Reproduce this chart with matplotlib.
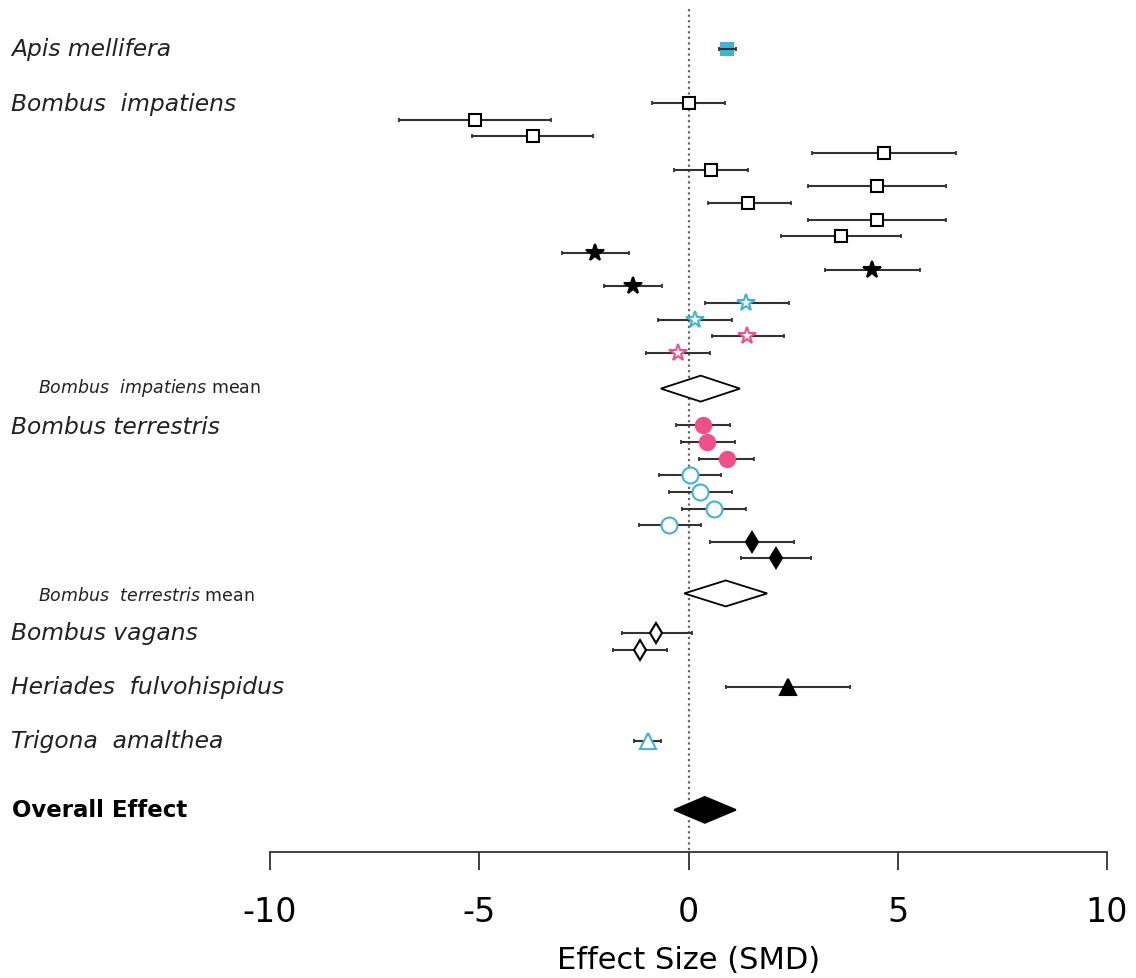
import matplotlib.pyplot as plt
from matplotlib.patches import Polygon
from matplotlib.transforms import blended_transform_factory

plt.rcParams["font.family"] = "DejaVu Sans"
plt.rcParams["mathtext.fontset"] = "dejavusans"

CYAN = "#40B4D4"
PINK = "#F04F8B"

# study-level effect sizes (SMD) with 95% CI, top to bottom per species
api_est, api_lo, api_hi = [0.92], [0.72], [1.14]

imp_est = [0.0, -5.10, -3.72, 4.67, 0.54, 4.50, 1.43, 4.50, 3.64,
           -2.23, 4.38, -1.33, 1.37, 0.16, 1.40, -0.26]
imp_lo = [-0.87, -6.92, -5.17, 2.95, -0.35, 2.86, 0.46, 2.86, 2.21,
          -3.02, 3.27, -2.02, 0.40, -0.73, 0.55, -1.02]
imp_hi = [0.87, -3.29, -2.28, 6.39, 1.42, 6.16, 2.44, 6.16, 5.07,
          -1.43, 5.54, -0.63, 2.39, 1.04, 2.28, 0.52]

ter_est = [0.34, 0.44, 0.91, 0.04, 0.28, 0.62, -0.46, 1.52, 2.09]
ter_lo = [-0.30, -0.19, 0.24, -0.70, -0.46, -0.15, -1.19, 0.51, 1.25]
ter_hi = [0.98, 1.10, 1.56, 0.78, 1.03, 1.37, 0.30, 2.53, 2.93]

vag_est, vag_lo, vag_hi = [-0.77, -1.15], [-1.60, -1.80], [0.08, -0.51]
her_est, her_lo, her_hi = [2.38], [0.90], [3.87]
tri_est, tri_lo, tri_hi = [-0.97], [-1.30], [-0.66]

# pooled estimates: lower, mean, upper
imp_mean = [-0.66, 0.29, 1.23]
ter_mean = [-0.10, 0.89, 1.88]
overall = [-0.34, 0.39, 1.13]

labels = ["Apis mellifera", "Bombus  impatiens", "Bombus terrestris",
          "Bombus vagans", "Heriades  fulvohispidus", "Trigona  amalthea"]
xticks = [-10, -5, 0, 5, 10]

# row positions (rows counted from the top)
api_y = [0]
imp_y = [3.25 + i for i in range(len(imp_est))]
imp_mean_y = 20.4
ter_y = [22.6 + i for i in range(len(ter_est))]
ter_mean_y = 32.7
vag_y = [35.1, 36.1]
her_y = [38.3]
tri_y = [41.55]
overall_y = 45.7
label_y = [0, 3.25, 22.7, 35.05, 38.3, 41.55]

# marker styles per row: (marker, face, edge, size)
imp_style = ([("s", "white", "black", 8.5)] * 9 +
             [("*", "black", "black", 13)] * 3 +
             [("*", "white", CYAN, 13)] * 2 +
             [("*", "white", PINK, 13)] * 2)
ter_style = ([("o", PINK, PINK, 11)] * 3 +
             [("o", "white", CYAN, 11.5)] * 4 +
             [("d", "black", "black", 10)] * 2)

fig = plt.figure(figsize=(11.36, 9.79), dpi=100)
ax = fig.add_axes([270 / 1136, 126 / 979, 837 / 1136, 843 / 979])
ax.set_xlim(-10, 10)
ax.set_ylim(48.23, -2.4)


def draw_rows(ys, e, l, h, styles, line_top=False):
    for y, ee, ll, hh, (m, fc, ec, ms) in zip(ys, e, l, h, styles):
        ax.errorbar([ee], [y], xerr=[[ee - ll], [hh - ee]], fmt="none",
                    ecolor="#333333", elinewidth=1.5, capsize=1.5, capthick=1.3,
                    zorder=4 if line_top else 2)
        ax.plot([ee], [y], marker=m, markersize=ms, markerfacecolor=fc,
                markeredgecolor=ec, markeredgewidth=1.5, linestyle="none",
                zorder=3)


draw_rows(api_y, api_est, api_lo, api_hi, [("s", CYAN, CYAN, 9)], line_top=True)
draw_rows(imp_y, imp_est, imp_lo, imp_hi, imp_style)
draw_rows(ter_y, ter_est, ter_lo, ter_hi, ter_style)
draw_rows(vag_y, vag_est, vag_lo, vag_hi, [("d", "white", "black", 10.5)] * 2)
draw_rows(her_y, her_est, her_lo, her_hi, [("^", "black", "black", 11)])
draw_rows(tri_y, tri_est, tri_lo, tri_hi, [("^", "white", CYAN, 11)])


def summary_diamond(vals, y, fc, hh=0.78):
    l, m, h = vals
    ax.add_patch(Polygon([(l, y), (m, y - hh), (h, y), (m, y + hh)],
                         closed=True, facecolor=fc, edgecolor="black",
                         linewidth=1.3, zorder=3))


summary_diamond(imp_mean, imp_mean_y, "white")
summary_diamond(ter_mean, ter_mean_y, "white")
summary_diamond(overall, overall_y, "black")

ax.plot([0, 0], [-2.4, 48.23], linestyle=(0, (1, 1.5)), color="#666666",
        linewidth=1.6, zorder=1)

# text column on the left
tr = blended_transform_factory(fig.transFigure, ax.transData)
for lab, y in zip(labels, label_y):
    ax.text(11 / 1136, y, lab, transform=tr, fontsize=16.8, style="italic",
            ha="left", va="center", color="#222222")
ax.text(38 / 1136, imp_mean_y - 0.1, r"$\mathit{Bombus\ \ impatiens}$ mean",
        transform=tr, fontsize=12.5, ha="left", va="center", color="#222222")
ax.text(38 / 1136, ter_mean_y + 0.1, r"$\mathit{Bombus\ \ terrestris}$ mean",
        transform=tr, fontsize=12.5, ha="left", va="center", color="#222222")
ax.text(12 / 1136, overall_y, "Overall Effect", transform=tr, fontsize=16.5,
        fontweight="bold", ha="left", va="center")

for s in ["top", "left", "right"]:
    ax.spines[s].set_visible(False)
ax.spines["bottom"].set_linewidth(1.3)
ax.spines["bottom"].set_color("#333333")
ax.set_yticks([])
ax.set_xticks(xticks)
ax.set_xticklabels([str(t) for t in xticks])
ax.tick_params(axis="x", length=13, width=1.3, color="#333333",
               labelsize=24, pad=18)
ax.set_xlabel("Effect Size (SMD)", fontsize=22, labelpad=12)

fig.savefig("out.png", dpi=100)
